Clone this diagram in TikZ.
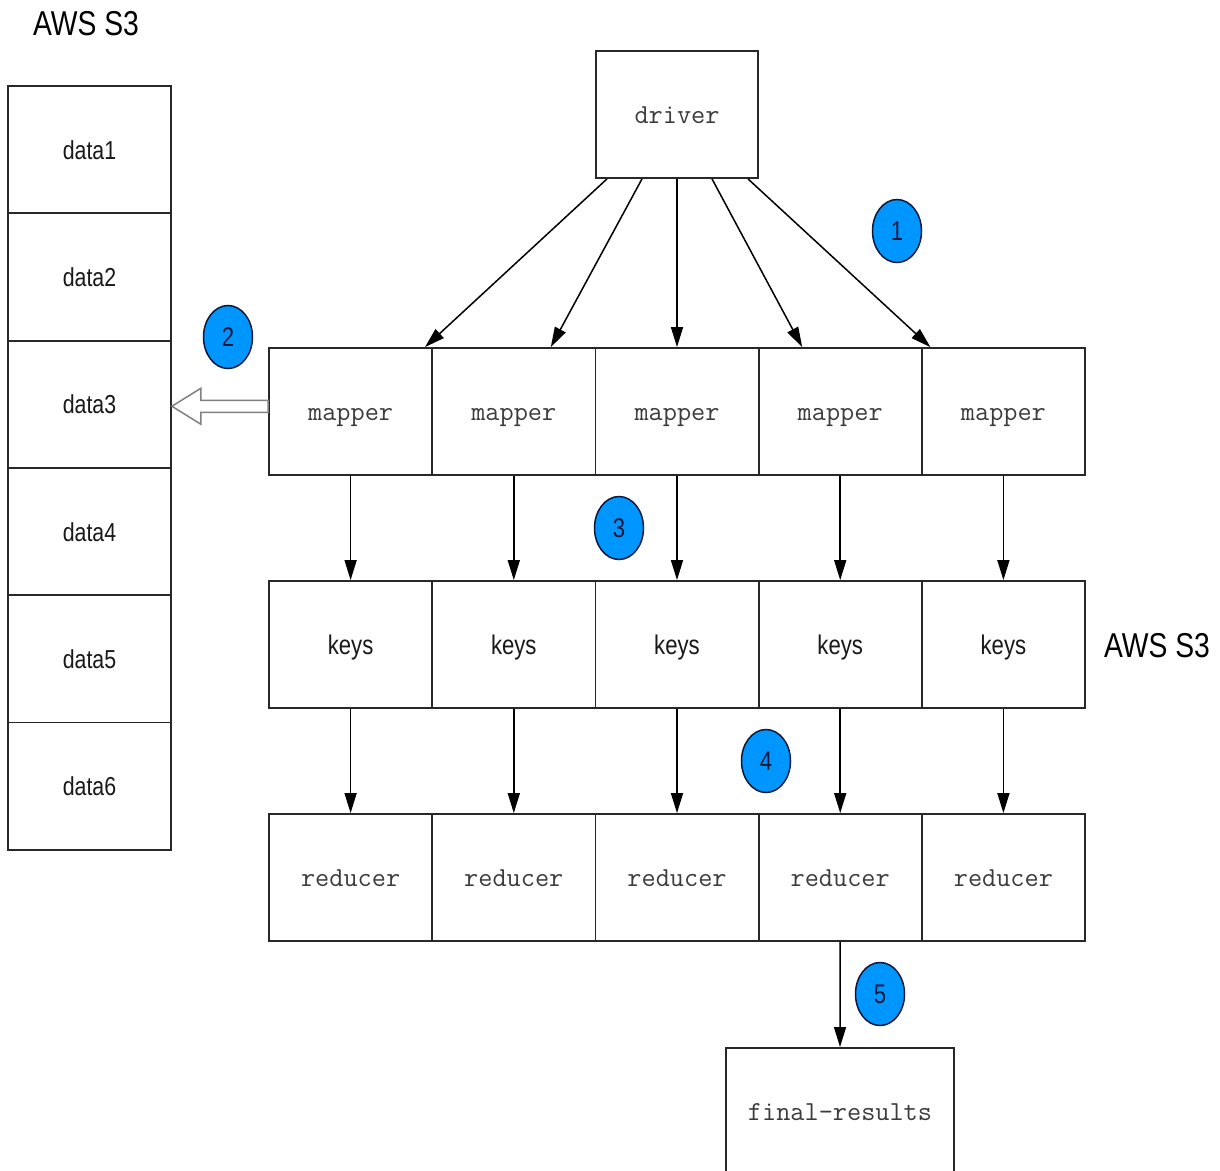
\documentclass[tikz,border=0pt]{standalone}
\usepackage{fontspec}
\newfontfamily\narrowsans{Liberation Sans}[FakeStretch=0.82]
\usetikzlibrary{arrows.meta,shapes.geometric,calc}
\definecolor{stepblue}{RGB}{0,150,255}
\definecolor{stepnum}{RGB}{12,24,60}
\definecolor{codegray}{RGB}{60,60,60}
\definecolor{edgegray}{RGB}{40,40,40}
\begin{document}
\begin{tikzpicture}[x=1pt,y=-1pt,
  cell/.style={draw=edgegray,line width=1.8pt,fill=white,inner sep=0pt,
    minimum width=163.2pt,minimum height=127pt},
  datacell/.style={cell,minimum width=163pt,minimum height=127.3pt,
    text height=19pt,text depth=0pt,
    font=\narrowsans\fontsize{26}{30}\selectfont,text=black!90},
  codecell/.style={cell,text height=17pt,text depth=0pt,
    font=\ttfamily\fontsize{27.5}{30}\selectfont,text=codegray},
  keycell/.style={cell,text height=19pt,text depth=0pt,
    font=\narrowsans\fontsize{27}{30}\selectfont,text=black!90},
  stepmark/.style={ellipse,draw=stepnum,line width=1.5pt,fill=stepblue,
    minimum width=49pt,minimum height=63pt,inner sep=0pt,
    font=\narrowsans\fontsize{27}{30}\selectfont,text=stepnum},
  title/.style={font=\narrowsans\fontsize{34.5}{40}\selectfont,text=black,inner sep=0pt},
  flow/.style={line width=1.5pt,draw=black,-{Triangle[length=20pt,width=12pt]}},
  hollow/.style={draw=gray,line width=1.5pt,fill=white,line join=miter}]
\useasboundingbox (0,0) rectangle (1220,1170);

% storage column
\node[title] (s3a) at (86,24) {AWS S3};
\foreach \i in {1,...,6}
  \node[datacell] (d\i) at (89.5,{86+127.3*(\i-0.5)}) {data\i};

% driver
\node[codecell,minimum width=162pt] (driver) at (677,114.5) {driver};

% mapper / keys / reducer rows
\foreach \i/\x in {1/350.6,2/513.8,3/677,4/840.2,5/1003.4}{
  \node[codecell] (m\i) at (\x,411.5) {mapper};
  \node[keycell] (k\i) at (\x,644.5) {keys};
  \node[codecell] (r\i) at (\x,877.5) {reducer};
}
\node[title] (s3b) at (1157,646) {AWS S3};

% final output
\node[codecell,minimum width=228pt,minimum height=128pt,anchor=north] (final) at (840,1047) {final-results};

% driver fan-out
\draw[flow] ($(driver.south)+(-70,0)$) -- ($(m1.north)+(74.4,0)$);
\draw[flow] ($(driver.south)+(-35,0)$) -- ($(m2.north)+(37,0)$);
\draw[flow] (driver.south) -- (m3.north);
\draw[flow] ($(driver.south)+(35,0)$) -- ($(m4.north)+(-38,0)$);
\draw[flow] ($(driver.south)+(71,0)$) -- ($(m5.north)+(-73,0)$);

% mappers to keys to reducers
\foreach \i in {1,...,5}{
  \draw[flow] (m\i.south) -- (k\i.north);
  \draw[flow] (k\i.south) -- (r\i.north);
}
\draw[flow] (r4.south) -- (final.north);

% read from storage
\coordinate (tip) at ($(d3.east)+(0,2)$);
\coordinate (tail) at (m1.west |- tip);
\draw[hollow] (tip) -- ($(tip)+(29,-18)$) -- ($(tip)+(29,-6)$) -- ($(tail)+(0,-6)$)
  -- ($(tail)+(0,6)$) -- ($(tip)+(29,6)$) -- ($(tip)+(29,18)$) -- cycle;

% step markers
\node[stepmark] (n1) at (897,231) {1};
\node[stepmark] (n2) at (228,337) {2};
\node[stepmark] (n3) at (619,528) {3};
\node[stepmark] (n4) at (766,761) {4};
\node[stepmark] (n5) at (880,994) {5};
\end{tikzpicture}
\end{document}
